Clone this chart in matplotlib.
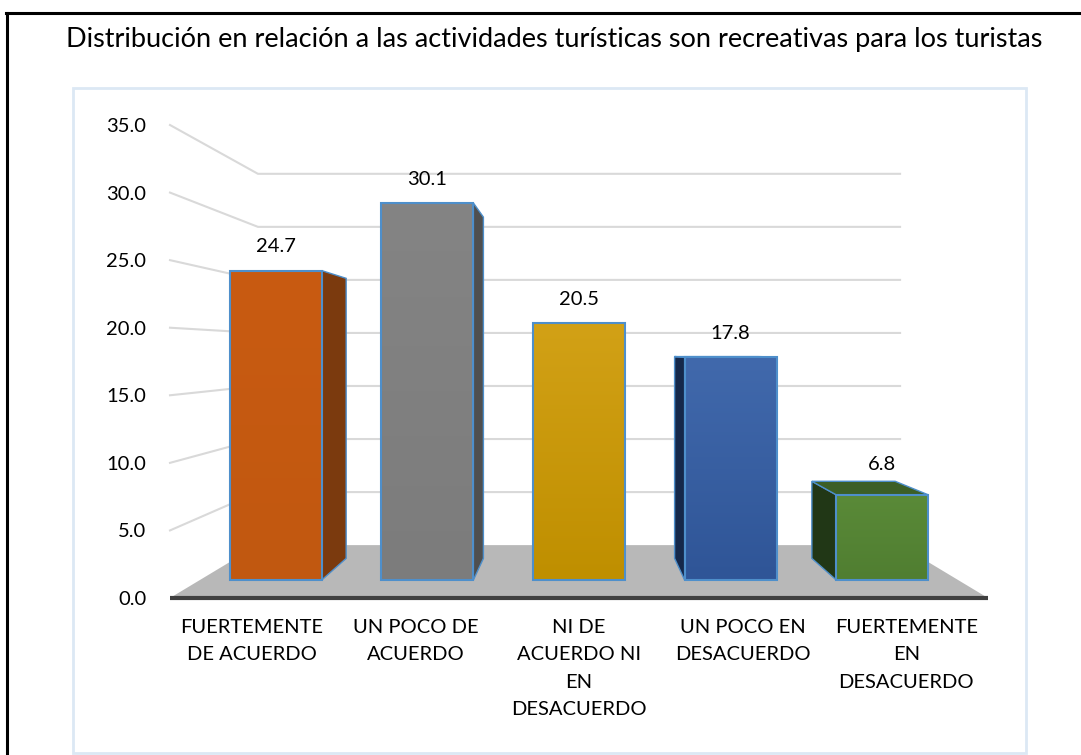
import numpy as np
import matplotlib.pyplot as plt
from matplotlib.patches import Polygon, Rectangle
from matplotlib.lines import Line2D
from matplotlib.colors import LinearSegmentedColormap

plt.rcParams['font.family'] = ['Lato', 'DejaVu Sans']

title = 'Distribución en relación a las actividades turísticas son recreativas para los turistas'
categories = ['FUERTEMENTE\nDE ACUERDO', 'UN POCO DE\nACUERDO',
              'NI DE\nACUERDO NI\nEN\nDESACUERDO', 'UN POCO EN\nDESACUERDO',
              'FUERTEMENTE\nEN\nDESACUERDO']
values = [24.7, 30.1, 20.5, 17.8, 6.8]
yticks = [0, 5, 10, 15, 20, 25, 30, 35]

front_top = ['#C95B12', '#848484', '#D2A116', '#4169AC', '#5A8A38']
front_bot = ['#C15810', '#7C7C7C', '#BF8F00', '#2F5597', '#507E31']
side_colors = ['#7B3A0E', '#4F4F4F', '#8A6600', '#15284A', '#213716']
top_colors = ['#A04A0E', '#6A6A6A', '#A87E00', '#2A4A85', '#3C5F26']
edge = '#4E8FCB'

# fake perspective: vanishing point and depth scales (data units)
vx, vy = 2.0, 18.2
s_bar = 0.927     # front faces of the bars
s_back = 0.905    # bar back face relative to front face
s_wall = 0.785    # back wall
bar_w = 0.607


def proj(x, y, s):
    return vx + s * (np.asarray(x) - vx), vy + s * (np.asarray(y) - vy)


W, H = 1081, 755
fig = plt.figure(figsize=(W / 100, H / 100), dpi=100)
ax = fig.add_axes([170 / W, (H - 598) / H, (988 - 170) / W, (598 - 125) / H])
for sp in ax.spines.values():
    sp.set_visible(False)

# frames
fig.add_artist(Line2D([6 / W, 1], [1 - 13 / H, 1 - 13 / H], color='black', lw=2.2,
                      solid_capstyle='projecting'))
fig.add_artist(Line2D([7 / W, 7 / W], [0, 1 - 13 / H], color='black', lw=2.2))
fig.add_artist(Rectangle((73 / W, 2 / H), (1026 - 73) / W, (753 - 88) / H,
                         fill=False, ec='#DCE8F4', lw=2))

fig.text(554 / W, 1 - 39 / H, title, ha='center', va='center', fontsize=19.5, color='black')

# floor
fl = [(-0.5, 0), (4.5, 0), proj(4.5, 0, s_wall), proj(-0.5, 0, s_wall)]
ax.add_patch(Polygon(fl, closed=True, fc='#B8B8B8', ec='none', zorder=1, clip_on=False))

# gridlines (left wall + back wall)
for t in yticks[1:]:
    x1, y1 = proj(-0.5, t, s_wall)
    x2, y2 = proj(4.5, t, s_wall)
    ax.plot([-0.5, x1, x2], [t, y1, y2], color='#D9D9D9', lw=1.5, zorder=2, clip_on=False)

ax.plot([-0.5, 4.5], [0, 0], color='#404040', lw=3, zorder=6, clip_on=False,
        solid_capstyle='butt')

for i, v in enumerate(values):
    xl, yb = proj(i - bar_w / 2, 0, s_bar)
    xr, yt = proj(i + bar_w / 2, v, s_bar)
    # side / top faces
    bl = proj(xl, yb, s_back)
    br = proj(xr, yb, s_back)
    tl = proj(xl, yt, s_back)
    tr = proj(xr, yt, s_back)
    if xr < vx:
        ax.add_patch(Polygon([(xr, yb), (xr, yt), tr, br], fc=side_colors[i],
                             ec=edge, lw=1, zorder=3, clip_on=False))
    if xl > vx:
        ax.add_patch(Polygon([(xl, yb), (xl, yt), tl, bl], fc=side_colors[i],
                             ec=edge, lw=1, zorder=3, clip_on=False))
    label_y = yt
    if yt < vy:
        ax.add_patch(Polygon([(xl, yt), (xr, yt), tr, tl], fc=top_colors[i],
                             ec=edge, lw=1, zorder=3, clip_on=False))
        label_y = (yt + tl[1]) / 2
    bars = ax.bar((xl + xr) / 2, yt - yb, width=xr - xl, bottom=yb, color='none',
                  edgecolor=edge, lw=1.5, zorder=5)
    grad = np.linspace(0, 1, 100).reshape(-1, 1)
    cm = LinearSegmentedColormap.from_list('g', [front_bot[i], front_top[i]])
    im = ax.imshow(grad, cmap=cm, extent=[xl, xr, yb, yt], origin='lower',
                   aspect='auto', zorder=4)
    im.set_clip_path(bars[0])
    ax.annotate(f'{v:.1f}', xy=((xl + xr) / 2, label_y), xytext=(0, 17),
                textcoords='offset points', ha='center', va='center',
                fontsize=14.5, color='black', zorder=7)

ax.set_xlim(-0.5, 4.5)
ax.set_ylim(0, 35)
ax.set_yticks(yticks)
ax.set_yticklabels([f'{t:.1f}' for t in yticks], fontsize=14.5, color='black')
ax.set_xticks(range(len(categories)))
ax.set_xticklabels(categories, fontsize=14.5, color='black', linespacing=1.75)
ax.tick_params(axis='y', length=0, pad=17)
ax.tick_params(axis='x', length=0, pad=15)

fig.savefig('out.png', dpi=100)
